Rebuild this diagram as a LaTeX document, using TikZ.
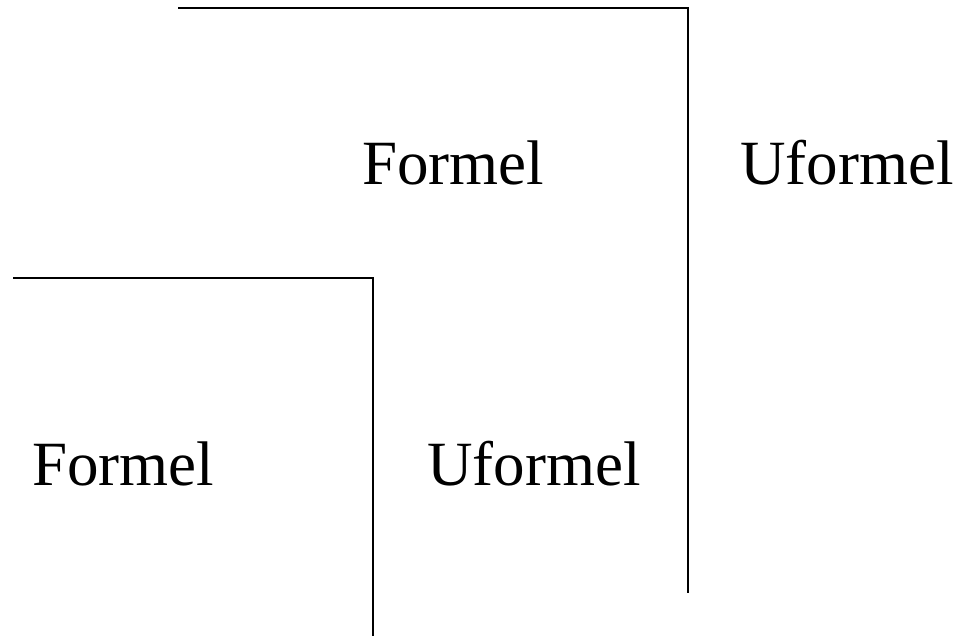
\documentclass[tikz,border=0pt]{standalone}
\usepackage{fontspec}
\setmainfont{Liberation Serif}
\begin{document}
\begin{tikzpicture}[x=1pt,y=-1pt,
  wall/.style={line width=2pt, line join=miter},
  lbl/.style={inner sep=0pt, anchor=base west, font=\fontsize{63}{70}\selectfont}]
\useasboundingbox (0,0) rectangle (961,636);
\coordinate (a1) at (178,8);
\coordinate (a2) at (688,8);
\coordinate (a3) at (688,593);
\coordinate (b1) at (13,278);
\coordinate (b2) at (373,278);
\coordinate (b3) at (373,636);
\draw[wall] (a1) -- (a2) -- (a3);
\draw[wall] (b1) -- (b2) -- (b3);
\node[lbl] (f1) at (362,185) {Formel};
\node[lbl] (u1) at (740,185) {Uformel};
\node[lbl] (f2) at (32,485) {Formel};
\node[lbl] (u2) at (427,485) {Uformel};
\end{tikzpicture}
\end{document}
